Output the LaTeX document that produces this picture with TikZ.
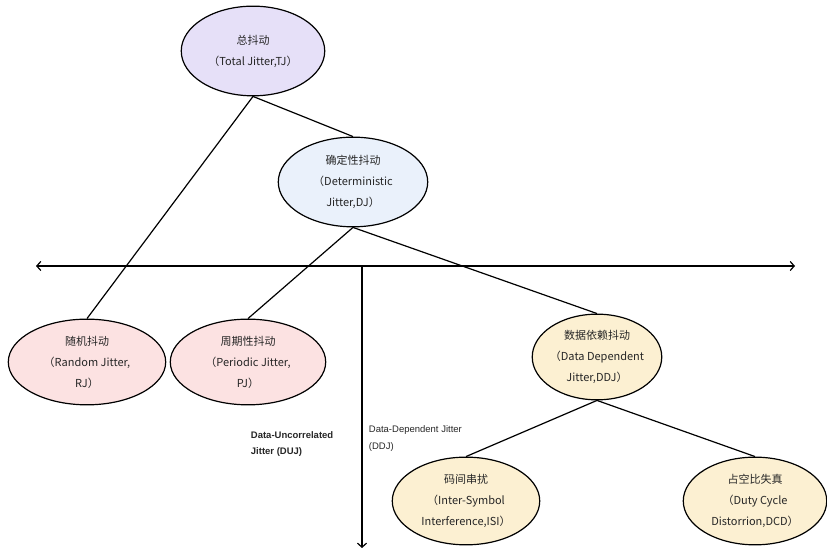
\documentclass[tikz,border=0pt]{standalone}
\usepackage{fontspec}
\newfontfamily\cjk{Noto Sans CJK SC}
\setsansfont{Liberation Sans}
\usetikzlibrary{shapes.geometric,arrows.meta}
\definecolor{tjfill}{HTML}{E6E0F8}
\definecolor{djfill}{HTML}{EAF1FB}
\definecolor{rjfill}{HTML}{FCE2E2}
\definecolor{ddjfill}{HTML}{FCF0D2}
\begin{document}
\begin{tikzpicture}
[x=1bp, y=1bp, line width=1.2bp, >={Straight Barb[length=4bp,width=9bp]},
jit/.style={ellipse, draw, inner sep=0pt},
txt/.style={align=center, text=black!85, font=\cjk\fontsize{11bp}{21bp}\selectfont},
ann/.style={align=left, anchor=west, text=black!85, font=\sffamily\fontsize{9.5bp}{17bp}\selectfont}]
\useasboundingbox (0,0) rectangle (827,551);

% axes
\coordinate (axl) at (36,285);
\coordinate (axr) at (795,285);
\coordinate (axo) at (362,285);
\coordinate (axb) at (362,3);
\draw[<->] (axl) -- (axr);
\draw[->] (axo) -- (axb);

% jitter tree
\node[jit, fill=tjfill, minimum width=144, minimum height=90,
  label={[txt]center:{总抖动\\（Total  Jitter,TJ）}}] (tj) at (253,500) {};
\node[jit, fill=djfill, minimum width=150, minimum height=90,
  label={[txt]center:{确定性抖动\\（Deterministic\\Jitter,DJ）}}] (dj) at (353,369) {};
\node[jit, fill=rjfill, minimum width=158, minimum height=86,
  label={[txt]center:{随机抖动\\（Random Jitter,\\RJ）}}] (rj) at (87,189) {};
\node[jit, fill=rjfill, minimum width=156, minimum height=86,
  label={[txt]center:{周期性抖动\\（Periodic Jitter,\\PJ）}}] (pj) at (248,189) {};
\node[jit, fill=ddjfill, minimum width=130, minimum height=86,
  label={[txt]center:{数据依赖抖动\\（Data Dependent\\Jitter,DDJ）}}] (ddj) at (597,194) {};
\node[jit, fill=ddjfill, minimum width=148, minimum height=88,
  label={[txt]center:{码间串扰\\（Inter-Symbol\\Interference,ISI）}}] (isi) at (466,50) {};
\node[jit, fill=ddjfill, minimum width=144, minimum height=88,
  label={[txt]center:{占空比失真\\（Duty Cycle\\Distorrion,DCD）}}] (dcd) at (755,50) {};

\draw (tj.south) -- (rj.north);
\draw (tj.south) -- (dj.north);
\draw (dj.south) -- (pj.north);
\draw (dj.south) -- (ddj.north);
\draw (ddj.south) -- (isi.north);
\draw (ddj.south) -- (dcd.north);

\node[ann, font=\sffamily\bfseries\fontsize{9.5bp}{16bp}\selectfont] (duj) at (247,107) {Data-Uncorrelated\\Jitter (DUJ)};
\node[ann] (ddjlab) at (365,112) {Data-Dependent Jitter\\(DDJ)};
\end{tikzpicture}
\end{document}
